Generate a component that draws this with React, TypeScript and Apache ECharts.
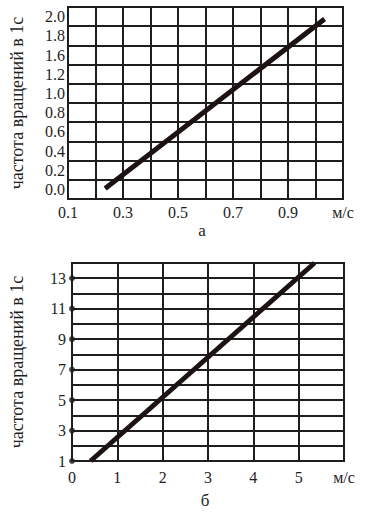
import React, { useEffect, useRef } from "react";
import * as echarts from "echarts";

// ---- Chart (а) ----
const topXLabels = ["0.1", "0.3", "0.5", "0.7", "0.9"];
const unitLabel = "м/с";
const topYLabels = ["0.0", "0.2", "0.4", "0.6", "0.8", "1.0", "1.2", "1.6", "1.8", "2.0"];
// labels sit in the middle of each grid cell in the original figure
const topYLabelAt = [0.1, 0.3, 0.5, 0.7, 0.9, 1.1, 1.3, 1.5, 1.7, 1.9];
const topLineX = [0.235, 1.033];
const topLineY = [0.11, 1.875];

// ---- Chart (б) ----
const bottomXLabels = ["0", "1", "2", "3", "4", "5"];
const bottomYLabels = [1, 3, 5, 7, 9, 11, 13];
const bottomLineX = [0.41, 5.35];
const bottomLineY = [1, 14];

const yTitle = "частота вращений в 1с";
const captionA = "а";
const captionB = "б";

const FONT = "Liberation Serif";
const INK = "#1e1e1e";

export default function App() {
  const ref = useRef<HTMLDivElement>(null);
  useEffect(() => {
    if (!ref.current) return;
    const chart = echarts.init(ref.current, null, { renderer: "svg" });
    const gridLine = { show: true, lineStyle: { color: INK, width: 2 } };
    const axisLine = { show: true, lineStyle: { color: INK, width: 2 } };
    const labelBase = { color: INK, fontFamily: FONT, fontSize: 16 };
    chart.setOption({
      animation: false,
      backgroundColor: "#fff",
      textStyle: { fontFamily: FONT },
      grid: [
        { left: 62, top: 7, width: 281, height: 192, show: true, borderColor: INK, borderWidth: 2 },
        { left: 66, top: 263, width: 278, height: 198, show: true, borderColor: INK, borderWidth: 2 },
      ],
      xAxis: [
        {
          type: "value",
          gridIndex: 0,
          min: 0.1,
          max: 1.1,
          interval: 0.1,
          axisLine,
          axisTick: { show: false },
          splitLine: gridLine,
          axisLabel: {
            ...labelBase,
            margin: 5,
            showMinLabel: true,
            showMaxLabel: true,
            hideOverlap: false,
            formatter: (v: number) => {
              if (Math.abs(v - 1.1) < 1e-6) return unitLabel;
              const s = v.toFixed(1);
              return topXLabels.includes(s) ? s : "";
            },
          },
        },
        {
          type: "value",
          gridIndex: 1,
          min: 0,
          max: 6,
          interval: 1,
          axisLine,
          axisTick: { show: false },
          splitLine: gridLine,
          axisLabel: {
            ...labelBase,
            margin: 8,
            showMinLabel: true,
            showMaxLabel: true,
            formatter: (v: number) => {
              if (v === 6) return unitLabel;
              const s = String(v);
              return bottomXLabels.includes(s) ? s : "";
            },
          },
        },
      ],
      yAxis: [
        {
          type: "value",
          gridIndex: 0,
          min: 0,
          max: 2,
          interval: 0.2,
          axisLine,
          axisTick: { show: false },
          splitLine: gridLine,
          name: yTitle,
          nameLocation: "middle",
          nameRotate: 90,
          nameGap: 42,
          nameTextStyle: { color: INK, fontFamily: FONT, fontSize: 18 },
          axisLabel: {
            ...labelBase,
            margin: 3,
            customValues: topYLabelAt,
            formatter: (v: number) => {
              const i = topYLabelAt.findIndex((p) => Math.abs(p - v) < 1e-6);
              return i >= 0 ? topYLabels[i] : "";
            },
          },
        },
        {
          type: "value",
          gridIndex: 1,
          min: 1,
          max: 14,
          interval: 1,
          axisLine,
          axisTick: { show: false },
          splitLine: gridLine,
          name: yTitle,
          nameLocation: "middle",
          nameRotate: 90,
          nameGap: 46,
          nameTextStyle: { color: INK, fontFamily: FONT, fontSize: 18 },
          axisLabel: {
            ...labelBase,
            margin: 6,
            showMaxLabel: true,
            formatter: (v: number) => (bottomYLabels.includes(v) ? String(v) : ""),
          },
        },
      ],
      series: [
        {
          type: "line",
          xAxisIndex: 0,
          yAxisIndex: 0,
          data: topLineX.map((x, i) => [x, topLineY[i]]),
          showSymbol: false,
          clip: false,
          lineStyle: { color: "#1c1212", width: 5 },
        },
        {
          type: "line",
          xAxisIndex: 1,
          yAxisIndex: 1,
          data: bottomLineX.map((x, i) => [x, bottomLineY[i]]),
          showSymbol: false,
          clip: false,
          lineStyle: { color: "#1c1212", width: 5 },
        },
        {
          type: "scatter",
          xAxisIndex: 1,
          yAxisIndex: 1,
          data: bottomYLabels.map((y) => [0, y]),
          symbolSize: 6,
          clip: false,
          itemStyle: { color: INK },
          z: 5,
        },
      ],
      graphic: [
        {
          type: "text",
          x: 202,
          y: 230,
          style: { text: captionA, fill: INK, fontFamily: FONT, fontSize: 17, textAlign: "center", textVerticalAlign: "middle" },
        },
        {
          type: "text",
          x: 205,
          y: 500,
          style: { text: captionB, fill: INK, fontFamily: FONT, fontSize: 17, textAlign: "center", textVerticalAlign: "middle" },
        },
      ],
    });
    return () => chart.dispose();
  }, []);
  return (
    <div
      ref={ref}
      style={{ position: "fixed", left: 0, top: 0, width: 373, height: 513, background: "#fff" }}
    />
  );
}
